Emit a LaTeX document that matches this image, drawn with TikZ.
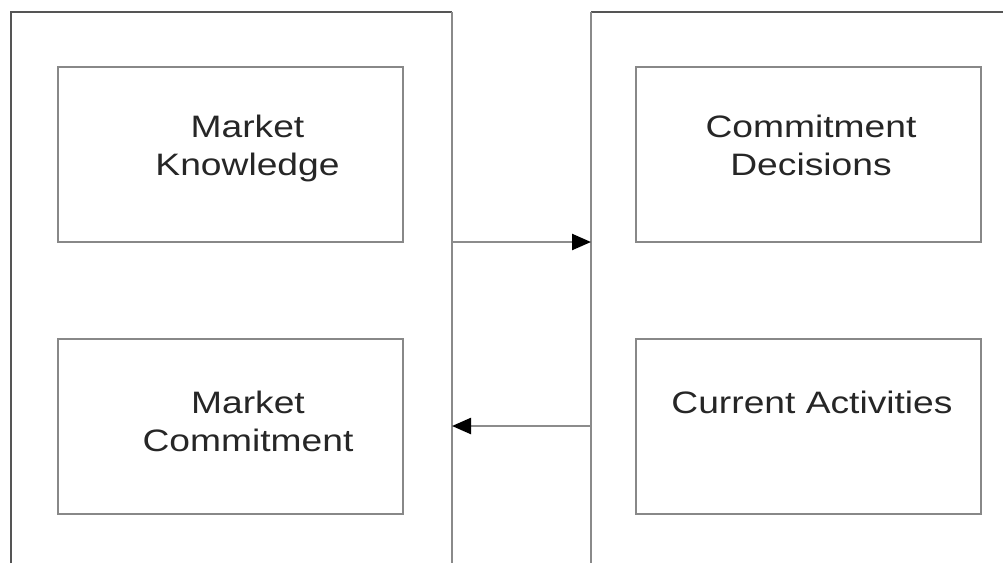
\documentclass[tikz,border=0pt]{standalone}
\usepackage{fontspec}
\setmainfont{Liberation Sans}[FakeStretch=1.2]
\usetikzlibrary{arrows.meta}
\definecolor{paneledge}{HTML}{555555}
\definecolor{paneldivide}{HTML}{8A8A8A}
\definecolor{boxedge}{HTML}{888888}
\definecolor{flowline}{HTML}{8C8C8C}
\begin{document}
\begin{tikzpicture}[x=1pt,y=-1pt,
  panel/.style={inner sep=0pt, outer sep=0pt, anchor=north west},
  itembox/.style={draw=boxedge, line width=2.2pt, inner sep=0pt,
    minimum width=345pt, minimum height=175pt, anchor=north west},
  caption/.style={anchor=base, align=center, inner sep=0pt,
    font=\fontsize{31}{38}\selectfont, text=black!85},
  flow/.style={draw=flowline, line width=2.4pt,
    -{Triangle[length=19pt,width=16pt,color=black]}}
]
\useasboundingbox (0,0) rectangle (1003,563);

% two open-bottomed panels
\node[panel, minimum width=441pt, minimum height=551pt] (lpanel) at (11,12) {};
\node[panel, minimum width=412pt, minimum height=551pt] (rpanel) at (591,12) {};
\draw[paneledge, line width=2.4pt] (lpanel.south west) -- (lpanel.north west) -- (lpanel.north east);
\draw[paneldivide, line width=2.4pt] (lpanel.north east) -- (lpanel.south east);
\draw[paneledge, line width=2.4pt] (rpanel.north west) -- (rpanel.north east);
\draw[paneldivide, line width=2.4pt] (rpanel.north west) -- (rpanel.south west);

% inner boxes
\node[itembox] (know) at (57,66) {};
\node[itembox] (mcom) at (57,338) {};
\node[itembox] (cdec) at (635,66) {};
\node[itembox] (cact) at (635,338) {};

% captions (base anchor sits on the last line)
\node[caption] (knowtxt) at (247.5,175) {Market\\Knowledge};
\node[caption] (mcomtxt) at (248,451) {Market\\Commitment};
\node[caption] (cdectxt) at (811,175) {Commitment\\Decisions};
\node[caption] (cacttxt) at (812,413) {Current Activities};

% flows between the panels
\coordinate (outL) at (lpanel.north east |- 0,242);
\coordinate (inR) at (rpanel.north west |- 0,242);
\coordinate (outR) at (rpanel.north west |- 0,426);
\coordinate (inL) at (lpanel.north east |- 0,426);
\draw[flow] (outL) -- (inR);
\draw[flow] (outR) -- (inL);
\end{tikzpicture}
\end{document}
